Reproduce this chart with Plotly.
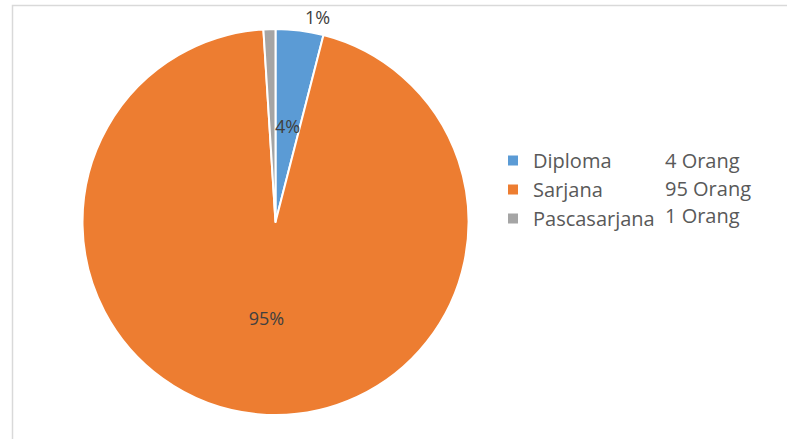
import math
import plotly.graph_objects as go

categories = ["Diploma", "Sarjana", "Pascasarjana"]
values = [4, 95, 1]
count_labels = ["4 Orang", "95 Orang", "1 Orang"]
colors = ["#5B9BD5", "#ED7D31", "#A5A5A5"]

W, H = 787, 439
cx, cy, r = 275.5, 222, 193
FONT = "Open Sans"
FS = 18
LFS = 20

total = sum(values)
pct_text = [f"{round(v / total * 100)}%" for v in values]

fig = go.Figure(go.Pie(
    labels=categories,
    values=values,
    sort=False,
    direction="clockwise",
    rotation=0,
    marker=dict(colors=colors, line=dict(color="white", width=2)),
    text=["", pct_text[1], ""],
    textinfo="text",
    textposition="inside",
    insidetextorientation="horizontal",
    textfont=dict(family=FONT, size=FS, color="#404040"),
    domain=dict(x=[(cx - r) / W, (cx + r) / W], y=[(H - cy - r) / H, (H - cy + r) / H]),
    showlegend=True,
    hoverinfo="label+value+percent",
))

annotations = []
# 4% label at half radius along the slice's mid-angle (as in the original)
mid = (values[0] / 2) / total * 2 * math.pi
px = cx + 0.5 * r * math.sin(mid)
py = cy - 0.5 * r * math.cos(mid)
annotations.append(dict(x=px / W, y=1 - py / H, xref="paper", yref="paper",
                        text=pct_text[0], showarrow=False, xanchor="center", yanchor="middle",
                        font=dict(family=FONT, size=FS, color="#404040")))
# 1% label placed outside, above the pie
annotations.append(dict(x=317 / W, y=1 - 17 / H, xref="paper", yref="paper",
                        text=pct_text[2], showarrow=False, xanchor="center", yanchor="middle",
                        font=dict(family=FONT, size=FS, color="#404040")))

legend_top = 141
row_y = [160, 188, 216]
for i, lab in enumerate(count_labels):
    annotations.append(dict(
        x=663 / W, y=1 - row_y[i] / H, xref="paper", yref="paper",
        xanchor="left", yanchor="middle", text=lab, showarrow=False,
        font=dict(family=FONT, size=LFS, color="#595959"),
    ))

fig.update_layout(
    width=W, height=H,
    margin=dict(l=0, r=0, t=0, b=0),
    paper_bgcolor="white",
    plot_bgcolor="white",
    legend=dict(
        x=493 / W, y=1 - legend_top / H, xanchor="left", yanchor="top",
        font=dict(family=FONT, size=LFS, color="#595959"),
        bgcolor="rgba(0,0,0,0)",
    ),
    annotations=annotations,
    shapes=[dict(type="rect", xref="paper", yref="paper",
                 x0=12.5 / W, x1=1.05, y0=-0.05, y1=1 - 5.5 / H,
                 line=dict(color="#D9D9D9", width=1.5), fillcolor="rgba(0,0,0,0)", layer="below")],
)

fig.write_html("out.html")
